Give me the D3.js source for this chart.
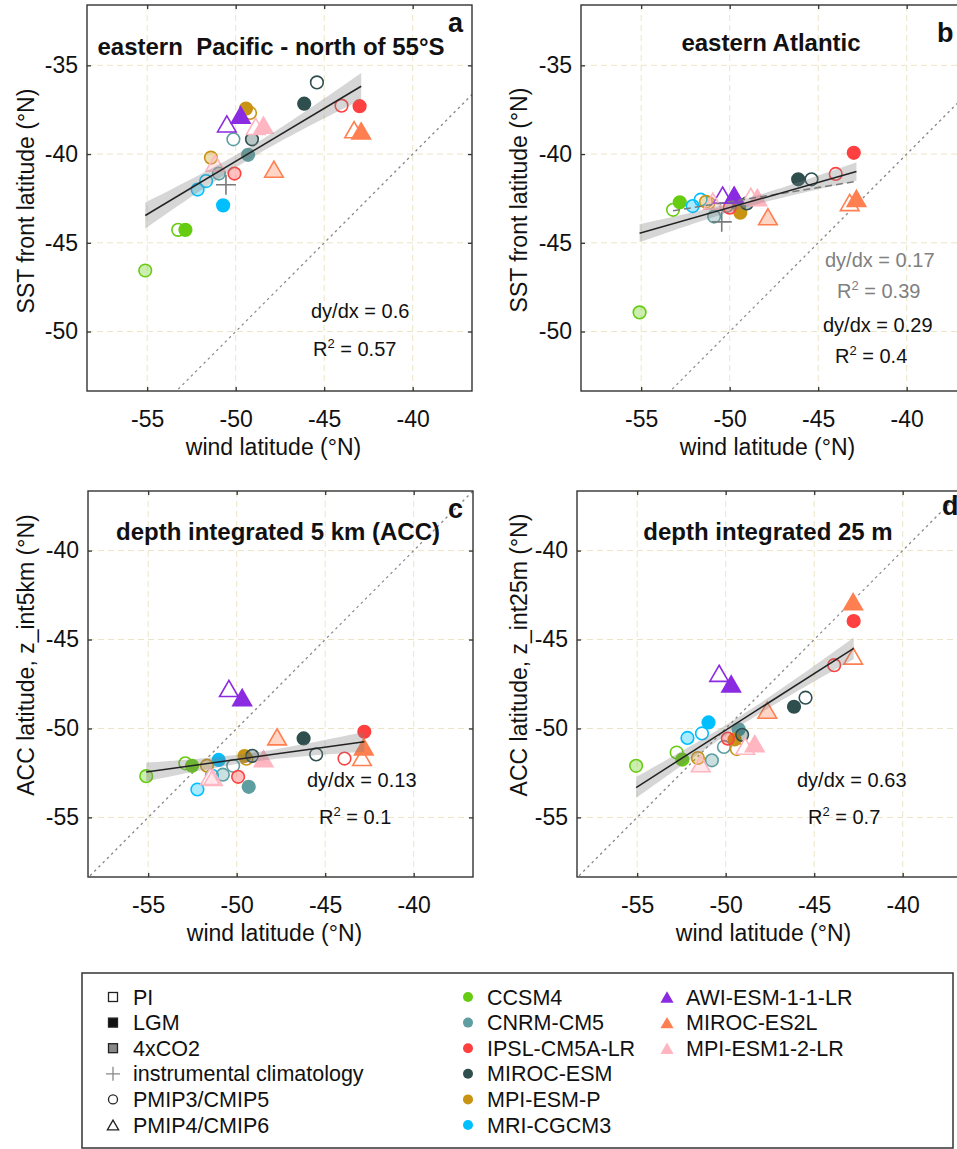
<!DOCTYPE html>
<html>
<head>
<meta charset="utf-8">
<script src="https://cdn.jsdelivr.net/npm/d3@7"></script>
<style>
  body { margin: 0; background: #fff; }
  svg { display: block; font-family: "Liberation Sans", Arial, Helvetica, sans-serif; }
</style>
</head>
<body>
<svg id="chart" width="957" height="1149"></svg>
<script>
// ---- data ----
const models = ["CCSM4", "CNRM-CM5", "IPSL-CM5A-LR", "MIROC-ESM", "MPI-ESM-P", "MRI-CGCM3",
                "AWI-ESM-1-1-LR", "MIROC-ES2L", "MPI-ESM1-2-LR"];
const modelColors = ["#66cc11", "#5f9ea0", "#ff4040", "#2f4f4f", "#c99313", "#00bfff",
                     "#8a2be2", "#ff7f50", "#ffb6c1"];
const cmip6Models = ["AWI-ESM-1-1-LR", "MIROC-ES2L", "MPI-ESM1-2-LR"];
const experiments = ["PI", "LGM", "4xCO2"];

// [model, experiment, wind latitude, y-value]
const panelA = [
  ["CCSM4", "PI", -53.25, -44.27], ["CCSM4", "LGM", -52.84, -44.27], ["CCSM4", "4xCO2", -55.11, -46.56],
  ["CNRM-CM5", "PI", -50.13, -39.17], ["CNRM-CM5", "LGM", -49.3, -40.04], ["CNRM-CM5", "4xCO2", -50.95, -41.1],
  ["IPSL-CM5A-LR", "PI", -44.02, -37.27], ["IPSL-CM5A-LR", "LGM", -43.0, -37.3], ["IPSL-CM5A-LR", "4xCO2", -50.07, -41.1],
  ["MIROC-ESM", "PI", -45.41, -35.96], ["MIROC-ESM", "LGM", -46.13, -37.16], ["MIROC-ESM", "4xCO2", -49.08, -39.17],
  ["MPI-ESM-P", "PI", -49.19, -37.68], ["MPI-ESM-P", "LGM", -49.42, -37.44], ["MPI-ESM-P", "4xCO2", -51.4, -40.2],
  ["MRI-CGCM3", "PI", -51.67, -41.52], ["MRI-CGCM3", "LGM", -50.71, -42.89], ["MRI-CGCM3", "4xCO2", -52.15, -42.0],
  ["AWI-ESM-1-1-LR", "PI", -50.5, -38.3], ["AWI-ESM-1-1-LR", "LGM", -49.72, -37.8],
  ["MIROC-ES2L", "PI", -43.31, -38.63], ["MIROC-ES2L", "LGM", -42.91, -38.7], ["MIROC-ES2L", "4xCO2", -47.84, -40.85],
  ["MPI-ESM1-2-LR", "PI", -48.87, -38.44], ["MPI-ESM1-2-LR", "LGM", -48.43, -38.37], ["MPI-ESM1-2-LR", "4xCO2", -51.16, -40.5]
];
const panelB = [
  ["CCSM4", "PI", -53.2, -43.14], ["CCSM4", "LGM", -52.82, -42.72], ["CCSM4", "4xCO2", -55.09, -48.92],
  ["CNRM-CM5", "PI", -50.18, -42.93], ["CNRM-CM5", "LGM", -49.47, -42.87], ["CNRM-CM5", "4xCO2", -50.88, -43.52],
  ["IPSL-CM5A-LR", "PI", -44.01, -41.12], ["IPSL-CM5A-LR", "LGM", -42.99, -39.93], ["IPSL-CM5A-LR", "4xCO2", -50.0, -43.02],
  ["MIROC-ESM", "PI", -45.38, -41.42], ["MIROC-ESM", "LGM", -46.13, -41.42], ["MIROC-ESM", "4xCO2", -49.03, -42.78],
  ["MPI-ESM-P", "PI", -51.2, -42.75], ["MPI-ESM-P", "LGM", -49.4, -43.3], ["MPI-ESM-P", "4xCO2", -51.34, -42.69],
  ["MRI-CGCM3", "PI", -51.64, -42.57], ["MRI-CGCM3", "4xCO2", -52.09, -42.93],
  ["AWI-ESM-1-1-LR", "PI", -50.4, -42.31], ["AWI-ESM-1-1-LR", "LGM", -49.75, -42.31],
  ["MIROC-ES2L", "PI", -43.22, -42.73], ["MIROC-ES2L", "LGM", -42.84, -42.5], ["MIROC-ES2L", "4xCO2", -47.84, -43.53],
  ["MPI-ESM1-2-LR", "PI", -48.81, -42.38], ["MPI-ESM1-2-LR", "LGM", -48.44, -42.45], ["MPI-ESM1-2-LR", "4xCO2", -50.95, -42.65]
];
const panelC = [
  ["CCSM4", "PI", -52.9, -51.96], ["CCSM4", "LGM", -52.52, -52.1], ["CCSM4", "4xCO2", -55.11, -52.68],
  ["CNRM-CM5", "PI", -50.2, -52.1], ["CNRM-CM5", "LGM", -49.32, -53.28], ["CNRM-CM5", "4xCO2", -50.78, -52.6],
  ["IPSL-CM5A-LR", "PI", -43.91, -51.69], ["IPSL-CM5A-LR", "LGM", -42.79, -50.19], ["IPSL-CM5A-LR", "4xCO2", -49.92, -52.72],
  ["MIROC-ESM", "PI", -45.51, -51.46], ["MIROC-ESM", "LGM", -46.22, -50.56], ["MIROC-ESM", "4xCO2", -49.12, -51.54],
  ["MPI-ESM-P", "PI", -49.45, -51.7], ["MPI-ESM-P", "LGM", -49.56, -51.55], ["MPI-ESM-P", "4xCO2", -51.68, -52.09],
  ["MRI-CGCM3", "PI", -51.4, -52.65], ["MRI-CGCM3", "LGM", -51.02, -51.77], ["MRI-CGCM3", "4xCO2", -52.22, -53.43],
  ["AWI-ESM-1-1-LR", "PI", -50.44, -47.75], ["AWI-ESM-1-1-LR", "LGM", -49.69, -48.26],
  ["MIROC-ES2L", "PI", -42.92, -51.63], ["MIROC-ES2L", "LGM", -42.82, -51.03], ["MIROC-ES2L", "4xCO2", -47.72, -50.47],
  ["MPI-ESM1-2-LR", "PI", -51.5, -52.7], ["MPI-ESM1-2-LR", "LGM", -48.48, -51.7], ["MPI-ESM1-2-LR", "4xCO2", -51.35, -52.75]
];
const panelD = [
  ["CCSM4", "PI", -52.77, -51.35], ["CCSM4", "LGM", -52.45, -51.75], ["CCSM4", "4xCO2", -55.06, -52.1],
  ["CNRM-CM5", "PI", -50.1, -51.04], ["CNRM-CM5", "LGM", -49.27, -50.05], ["CNRM-CM5", "4xCO2", -50.78, -51.79],
  ["IPSL-CM5A-LR", "PI", -43.87, -46.44], ["IPSL-CM5A-LR", "LGM", -42.77, -43.96], ["IPSL-CM5A-LR", "4xCO2", -49.88, -50.57],
  ["MIROC-ESM", "PI", -45.49, -48.27], ["MIROC-ESM", "LGM", -46.14, -48.78], ["MIROC-ESM", "4xCO2", -49.07, -50.36],
  ["MPI-ESM-P", "PI", -49.37, -51.16], ["MPI-ESM-P", "LGM", -49.5, -50.62], ["MPI-ESM-P", "4xCO2", -51.57, -51.66],
  ["MRI-CGCM3", "PI", -51.34, -50.28], ["MRI-CGCM3", "LGM", -50.97, -49.66], ["MRI-CGCM3", "4xCO2", -52.16, -50.53],
  ["AWI-ESM-1-1-LR", "PI", -50.37, -46.9], ["AWI-ESM-1-1-LR", "LGM", -49.69, -47.5],
  ["MIROC-ES2L", "PI", -42.8, -45.93], ["MIROC-ES2L", "LGM", -42.8, -42.87], ["MIROC-ES2L", "4xCO2", -47.65, -48.97],
  ["MPI-ESM1-2-LR", "PI", -48.9, -51.0], ["MPI-ESM1-2-LR", "LGM", -48.36, -50.85], ["MPI-ESM1-2-LR", "4xCO2", -51.41, -51.98]
];
const instrumentalA = [-50.55, -41.73];
const instrumentalB = [-50.45, -43.82];
const outlierB = ["CCSM4", "4xCO2"];   // left out of the dashed fit in panel b

const panelLetters = ["a", "b", "c", "d"];
const panelTitles = ["eastern  Pacific - north of 55°S", "eastern Atlantic",
                     "depth integrated 5 km (ACC)", "depth integrated 25 m"];
const yTitles = ["SST front latitude (°N)", "SST front latitude (°N)",
                 "ACC latitude, z_int5km (°N)", "ACC latitude, z_int25m (°N)"];
const xTitle = "wind latitude (°N)";
const xTicks = [-55, -50, -45, -40];
const yTicksTop = [-50, -45, -40, -35];
const yTicksBottom = [-55, -50, -45, -40];
const slopeLabels = ["0.6", "0.29", "0.13", "0.63"];
const r2Labels = ["0.57", "0.4", "0.1", "0.7"];
const slopeLabelNoOutlier = "0.17";
const r2LabelNoOutlier = "0.39";

const legendExperiments = ["PI", "LGM", "4xCO2", "instrumental climatology", "PMIP3/CMIP5", "PMIP4/CMIP6"];

// ---- layout ----
const W = 385, H = 386;
const xDomain = [-58.4, -36.65];
const yDomainTop = [-53.35, -31.6];
const yDomainBottom = [-58.35, -36.65];
const layout = [
  {left: 87,  top: 5,   titleX: 184, titleY: 50, letterX: 361, letterY: 27, yTitleX: 26,  yTitleY: 201},
  {left: 581, top: 5,   titleX: 190, titleY: 46, letterX: 356, letterY: 37, yTitleX: 519, yTitleY: 200},
  {left: 88,  top: 491, titleX: 190, titleY: 49, letterX: 360, letterY: 27, yTitleX: 26,  yTitleY: 655},
  {left: 577, top: 491, titleX: 191, titleY: 49, letterX: 365, letterY: 24, yTitleX: 519, yTitleY: 655}
];
const statPos = [
  {x: 224, y: 313, rx: 226, ry: 351},
  {x: 242, y: 327, rx: 254, ry: 358},
  {x: 219, y: 296, rx: 231, ry: 333},
  {x: 220, y: 296, rx: 231, ry: 333}
];

const svg = d3.select("#chart");
const colorOf = d3.scaleOrdinal().domain(models).range(modelColors);

// triangle centred on its bounding box
const triangle = {
  draw(ctx, size) {
    const s = Math.sqrt(size * 4 / Math.sqrt(3));
    const h = s * Math.sqrt(3) / 2;
    ctx.moveTo(0, -h / 2);
    ctx.lineTo(s / 2, h / 2);
    ctx.lineTo(-s / 2, h / 2);
    ctx.closePath();
  }
};

function linFit(pts) {
  const n = pts.length;
  const mx = d3.mean(pts, p => p.x), my = d3.mean(pts, p => p.y);
  const sxx = d3.sum(pts, p => (p.x - mx) ** 2);
  const sxy = d3.sum(pts, p => (p.x - mx) * (p.y - my));
  const b = sxy / sxx, a = my - b * mx;
  const se = Math.sqrt(d3.sum(pts, p => (p.y - a - b * p.x) ** 2) / (n - 2));
  const [x0, x1] = d3.extent(pts, p => p.x);
  return {a, b, se, n, mx, sxx, x0, x1};
}

function drawPanel(i, rows, instr) {
  const L = layout[i];
  const g = svg.append("g").attr("transform", `translate(${L.left},${L.top})`);
  const x = d3.scaleLinear().domain(xDomain).range([0, W]);
  const y = d3.scaleLinear().domain(i < 2 ? yDomainTop : yDomainBottom).range([H, 0]);
  const yTicks = i < 2 ? yTicksTop : yTicksBottom;
  const pts = rows.map(r => ({model: r[0], exp: r[1], x: r[2], y: r[3]}));

  const clipId = "clip" + i;
  g.append("clipPath").attr("id", clipId).append("rect").attr("width", W).attr("height", H);
  const plot = g.append("g").attr("clip-path", `url(#${clipId})`);

  // grid
  plot.selectAll(".vg").data(xTicks).join("line")
    .attr("x1", d => x(d)).attr("x2", d => x(d)).attr("y1", 0).attr("y2", H)
    .attr("stroke", "#ebe5c6").attr("stroke-dasharray", "6,4");
  plot.selectAll(".hg").data(yTicks).join("line")
    .attr("y1", d => y(d)).attr("y2", d => y(d)).attr("x1", 0).attr("x2", W)
    .attr("stroke", "#ebe5c6").attr("stroke-dasharray", "6,4");

  // 1:1 line
  plot.append("line")
    .attr("x1", x(-70)).attr("y1", y(-70)).attr("x2", x(-20)).attr("y2", y(-20))
    .attr("stroke", "#888").attr("stroke-width", 1.3).attr("stroke-dasharray", "2.5,3.5");

  // markers: circles (CMIP5) then triangles (CMIP6), PI -> LGM -> 4xCO2
  const ordered = [];
  [false, true].forEach(isTri => experiments.forEach(e =>
    pts.filter(p => cmip6Models.includes(p.model) === isTri && p.exp === e).forEach(p => ordered.push(p))));
  plot.selectAll(".mk").data(ordered).join("path")
    .attr("transform", d => `translate(${x(d.x)},${y(d.y)})`)
    .attr("d", d => cmip6Models.includes(d.model)
      ? d3.symbol(triangle, 150)()
      : d3.symbol(d3.symbolCircle, Math.PI * 6.3 * 6.3)())
    .attr("fill", d => d.exp === "PI" ? "#fff" : colorOf(d.model))
    .attr("fill-opacity", d => d.exp === "4xCO2" ? 0.33 : 1)
    .attr("stroke", d => colorOf(d.model))
    .attr("stroke-width", 1.6);

  if (instr) {
    const cx = x(instr[0]), cy = y(instr[1]);
    plot.append("path")
      .attr("d", `M${cx - 10},${cy}H${cx + 10}M${cx},${cy - 10}V${cy + 10}`)
      .attr("stroke", "#7a7a7a").attr("stroke-width", 1.6);
  }

  // regression with standard-error band
  const f = linFit(pts);
  const xs = d3.range(41).map(k => f.x0 + (f.x1 - f.x0) * k / 40);
  const half = xv => 1.0 * f.se * Math.sqrt(1 / f.n + (xv - f.mx) ** 2 / f.sxx);
  plot.append("path").datum(xs)
    .attr("d", d3.area().x(d => x(d))
      .y0(d => y(f.a + f.b * d - half(d))).y1(d => y(f.a + f.b * d + half(d))))
    .attr("fill", "#808080").attr("fill-opacity", 0.32);
  if (i === 1) {
    const f2 = linFit(pts.filter(p => !(p.model === outlierB[0] && p.exp === outlierB[1])));
    plot.append("line")
      .attr("x1", x(f2.x0)).attr("y1", y(f2.a + f2.b * f2.x0))
      .attr("x2", x(f2.x1)).attr("y2", y(f2.a + f2.b * f2.x1))
      .attr("stroke", "#7a7a7a").attr("stroke-width", 1.5).attr("stroke-dasharray", "7,4");
  }
  plot.append("line")
    .attr("x1", x(f.x0)).attr("y1", y(f.a + f.b * f.x0))
    .attr("x2", x(f.x1)).attr("y2", y(f.a + f.b * f.x1))
    .attr("stroke", "#222").attr("stroke-width", 1.5);

  // axes (inward ticks on all sides)
  const fmt = d => String(d);
  const styleAxis = sel => {
    sel.select(".domain").remove();
    sel.selectAll(".tick line").attr("stroke", "#333").attr("stroke-width", 1.3);
    sel.selectAll("text").attr("font-size", 23).attr("fill", "#111")
      .attr("font-family", "Liberation Sans, Arial, sans-serif");
  };
  g.append("g").attr("transform", `translate(0,${H})`)
    .call(d3.axisBottom(x).tickValues(xTicks).tickSize(-4).tickPadding(20).tickFormat(fmt)).call(styleAxis);
  g.append("g")
    .call(d3.axisTop(x).tickValues(xTicks).tickSize(-4).tickFormat(() => "")).call(styleAxis);
  g.append("g")
    .call(d3.axisLeft(y).tickValues(yTicks).tickSize(-4).tickPadding(9).tickFormat(fmt)).call(styleAxis);
  g.append("g").attr("transform", `translate(${W},0)`)
    .call(d3.axisRight(y).tickValues(yTicks).tickSize(-4).tickFormat(() => "")).call(styleAxis);

  g.append("rect").attr("width", W).attr("height", H)
    .attr("fill", "none").attr("stroke", "#333").attr("stroke-width", 1.4);

  // titles
  g.append("text").attr("x", L.titleX).attr("y", L.titleY).attr("text-anchor", "middle")
    .style("white-space", "pre").attr("font-size", 24).attr("font-weight", "bold").attr("fill", "#111")
    .text(panelTitles[i]);
  g.append("text").attr("x", L.letterX).attr("y", L.letterY)
    .attr("font-size", 27).attr("font-weight", "bold").attr("fill", "#111").text(panelLetters[i]);
  g.append("text").attr("x", W / 2 - 6).attr("y", H + 64).attr("text-anchor", "middle")
    .attr("font-size", 23).attr("fill", "#111").text(xTitle);
  svg.append("text").attr("transform", `translate(${L.yTitleX},${L.yTitleY}) rotate(-90)`)
    .attr("text-anchor", "middle").attr("dy", "0.35em")
    .attr("font-size", 23).attr("fill", "#111").text(yTitles[i]);

  // statistics
  const S = statPos[i];
  const stat = (sx, sy, slope, r2, color, ry) => {
    g.append("text").attr("x", sx).attr("y", sy).attr("font-size", 20).attr("fill", color)
      .text(`dy/dx = ${slope}`);
    const t = g.append("text").attr("x", sx + (S.rx - S.x)).attr("y", ry).attr("font-size", 20).attr("fill", color);
    t.append("tspan").text("R");
    t.append("tspan").attr("font-size", 13).attr("dy", -8).text("2");
    t.append("tspan").attr("dy", 8).text(` = ${r2}`);
  };
  if (i === 1) stat(S.x + 2, 262, slopeLabelNoOutlier, r2LabelNoOutlier, "#808080", 293);
  stat(S.x, S.y, slopeLabels[i], r2Labels[i], "#111", S.ry);
}

drawPanel(0, panelA, instrumentalA);
drawPanel(1, panelB, instrumentalB);
drawPanel(2, panelC, null);
drawPanel(3, panelD, null);

// ---- legend ----
const lg = svg.append("g");
lg.append("rect").attr("x", 82).attr("y", 973).attr("width", 871).attr("height", 175)
  .attr("fill", "none").attr("stroke", "#333").attr("stroke-width", 1.5);
const rowY = k => 997 + k * 25.6;
legendExperiments.forEach((lab, k) => {
  const cx = 113, cy = rowY(k);
  if (k < 3) {
    lg.append("rect").attr("x", cx - 4.5).attr("y", cy - 4.5).attr("width", 9).attr("height", 9)
      .attr("fill", ["#fff", "#111", "#888"][k]).attr("stroke", "#222").attr("stroke-width", 1.3);
  } else if (k === 3) {
    lg.append("path").attr("d", `M${cx - 7},${cy}H${cx + 7}M${cx},${cy - 7}V${cy + 7}`)
      .attr("stroke", "#888").attr("stroke-width", 1.3);
  } else if (k === 4) {
    lg.append("circle").attr("cx", cx).attr("cy", cy).attr("r", 4.5)
      .attr("fill", "#fff").attr("stroke", "#222").attr("stroke-width", 1.3);
  } else {
    lg.append("path").attr("transform", `translate(${cx},${cy})`).attr("d", d3.symbol(triangle, 55)())
      .attr("fill", "#fff").attr("stroke", "#222").attr("stroke-width", 1.3);
  }
  lg.append("text").attr("x", 133).attr("y", cy + 7.5).attr("font-size", 21.5).attr("fill", "#111").text(lab);
});
models.filter(m => !cmip6Models.includes(m)).forEach((m, k) => {
  const cy = rowY(k);
  lg.append("circle").attr("cx", 468).attr("cy", cy).attr("r", 5).attr("fill", colorOf(m));
  lg.append("text").attr("x", 487).attr("y", cy + 7.5).attr("font-size", 21.5).attr("fill", "#111").text(m);
});
cmip6Models.forEach((m, k) => {
  const cy = rowY(k);
  lg.append("path").attr("transform", `translate(667,${cy})`).attr("d", d3.symbol(triangle, 75)())
    .attr("fill", colorOf(m));
  lg.append("text").attr("x", 686).attr("y", cy + 7.5).attr("font-size", 21.5).attr("fill", "#111").text(m);
});
</script>
</body>
</html>
